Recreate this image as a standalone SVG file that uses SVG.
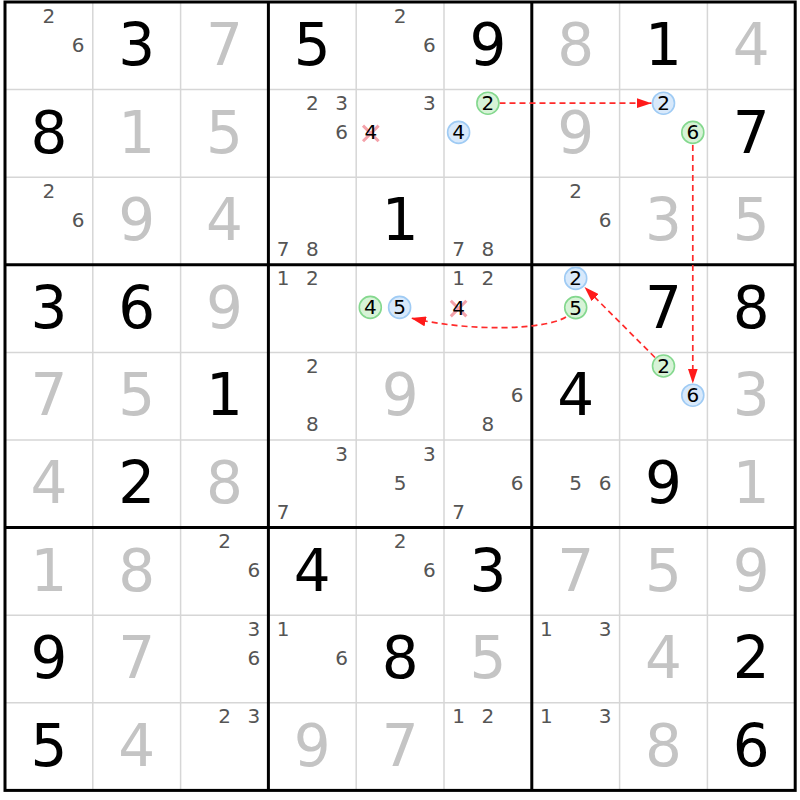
<svg xmlns="http://www.w3.org/2000/svg" width="800" height="800" viewBox="0 0 800 800">
<style>
text{font-family:"DejaVu Sans",sans-serif;text-anchor:middle}
.g{font-size:58px;fill:#000}
.s{font-size:58px;fill:#c4c4c4}
.c{font-size:20px;fill:#555}
.k{font-size:20px;fill:#000}
.thin{stroke:#d6d6d6;stroke-width:1.5}
.thick{stroke:#000;stroke-width:3}
.gr{fill:#d7f3d7;stroke:#84d88e;stroke-width:1.6}
.bl{fill:#d8e9fb;stroke:#9fcbf4;stroke-width:1.6}
.x{stroke:#f4a2aa;stroke-width:3}
.arr{fill:none;stroke:#ff2a2a;stroke-width:1.7;stroke-dasharray:6 4;marker-end:url(#ah)}
</style>
<defs>
<marker id="ah" viewBox="0 0 15 10" refX="15" refY="5" markerWidth="15" markerHeight="10" markerUnits="userSpaceOnUse" orient="auto">
<path d="M0,0 L15,5 L0,10 z" fill="#ff1a1a"/>
</marker>
</defs>
<rect x="0" y="0" width="800" height="800" fill="#fff"/>
<g id="grid">
<g class="thin">
<line x1="92.8" y1="2" x2="92.8" y2="790.4"/>
<line x1="180.6" y1="2" x2="180.6" y2="790.4"/>
<line x1="356.2" y1="2" x2="356.2" y2="790.4"/>
<line x1="444" y1="2" x2="444" y2="790.4"/>
<line x1="619.6" y1="2" x2="619.6" y2="790.4"/>
<line x1="707.4" y1="2" x2="707.4" y2="790.4"/>
<line x1="5" y1="89.6" x2="795.2" y2="89.6"/>
<line x1="5" y1="177.2" x2="795.2" y2="177.2"/>
<line x1="5" y1="352.4" x2="795.2" y2="352.4"/>
<line x1="5" y1="440" x2="795.2" y2="440"/>
<line x1="5" y1="615.2" x2="795.2" y2="615.2"/>
<line x1="5" y1="702.8" x2="795.2" y2="702.8"/>
</g>
<g class="thick">
<line x1="268.4" y1="2" x2="268.4" y2="790.4"/>
<line x1="531.8" y1="2" x2="531.8" y2="790.4"/>
<line x1="5" y1="264.8" x2="795.2" y2="264.8"/>
<line x1="5" y1="527.6" x2="795.2" y2="527.6"/>
<rect x="5" y="2" width="790.2" height="788.4" fill="none"/>
</g>
</g>
<g id="connectors">
<path class="arr" d="M499.5,103.2 H651.5"/>
<path class="arr" d="M692.8,145 V383.5"/>
<path class="arr" d="M655,357.5 L584.5,287"/>
<path class="arr" d="M566,317 C545,330 470,332 411,318"/>
</g>
<g id="cells">
<g id="r1c1"><text class="c" x="48.9" y="22.6">2</text><text class="c" x="78.2" y="51.8">6</text></g>
<g id="r1c2"><text class="g" x="136.7" y="65">3</text></g>
<g id="r1c3"><text class="s" x="224.5" y="65">7</text></g>
<g id="r1c4"><text class="g" x="312.3" y="65">5</text></g>
<g id="r1c5"><text class="c" x="400.1" y="22.6">2</text><text class="c" x="429.4" y="51.8">6</text></g>
<g id="r1c6"><text class="g" x="487.9" y="65">9</text></g>
<g id="r1c7"><text class="s" x="575.7" y="65">8</text></g>
<g id="r1c8"><text class="g" x="663.5" y="65">1</text></g>
<g id="r1c9"><text class="s" x="751.3" y="65">4</text></g>

<g id="r2c1"><text class="g" x="48.9" y="152.6">8</text></g>
<g id="r2c2"><text class="s" x="136.7" y="152.6">1</text></g>
<g id="r2c3"><text class="s" x="224.5" y="152.6">5</text></g>
<g id="r2c4"><text class="c" x="312.3" y="110.2">2</text><text class="c" x="341.6" y="110.2">3</text><text class="c" x="341.6" y="139.4">6</text></g>
<g id="r2c5"><text class="c" x="429.4" y="110.2">3</text><path class="x" d="M363,125.6 L378.6,141.2 M378.6,125.6 L363,141.2"/><text class="k" x="370.8" y="139.4">4</text></g>
<g id="r2c6"><circle class="gr" cx="487.9" cy="103.2" r="11"/><text class="k" x="487.9" y="110.2">2</text><circle class="bl" cx="458.6" cy="132.4" r="11"/><text class="k" x="458.6" y="139.4">4</text></g>
<g id="r2c7"><text class="s" x="575.7" y="152.6">9</text></g>
<g id="r2c8"><circle class="bl" cx="663.5" cy="103.2" r="11"/><text class="k" x="663.5" y="110.2">2</text><circle class="gr" cx="692.8" cy="132.4" r="11"/><text class="k" x="692.8" y="139.4">6</text></g>
<g id="r2c9"><text class="g" x="751.3" y="152.6">7</text></g>

<g id="r3c1"><text class="c" x="48.9" y="197.8">2</text><text class="c" x="78.2" y="227">6</text></g>
<g id="r3c2"><text class="s" x="136.7" y="240.2">9</text></g>
<g id="r3c3"><text class="s" x="224.5" y="240.2">4</text></g>
<g id="r3c4"><text class="c" x="283" y="256.2">7</text><text class="c" x="312.3" y="256.2">8</text></g>
<g id="r3c5"><text class="g" x="400.1" y="240.2">1</text></g>
<g id="r3c6"><text class="c" x="458.6" y="256.2">7</text><text class="c" x="487.9" y="256.2">8</text></g>
<g id="r3c7"><text class="c" x="575.7" y="197.8">2</text><text class="c" x="605" y="227">6</text></g>
<g id="r3c8"><text class="s" x="663.5" y="240.2">3</text></g>
<g id="r3c9"><text class="s" x="751.3" y="240.2">5</text></g>

<g id="r4c1"><text class="g" x="48.9" y="327.8">3</text></g>
<g id="r4c2"><text class="g" x="136.7" y="327.8">6</text></g>
<g id="r4c3"><text class="s" x="224.5" y="327.8">9</text></g>
<g id="r4c4"><text class="c" x="283" y="285.4">1</text><text class="c" x="312.3" y="285.4">2</text></g>
<g id="r4c5"><circle class="gr" cx="370.3" cy="307.4" r="11"/><text class="k" x="370.3" y="314.4">4</text><circle class="bl" cx="399.6" cy="307.4" r="11"/><text class="k" x="399.6" y="314.4">5</text></g>
<g id="r4c6"><text class="c" x="458.6" y="285.4">1</text><text class="c" x="487.9" y="285.4">2</text><path class="x" d="M450.8,300.8 L466.4,316.4 M466.4,300.8 L450.8,316.4"/><text class="k" x="458.6" y="314.6">4</text></g>
<g id="r4c7"><circle class="bl" cx="575.7" cy="278.4" r="11"/><text class="k" x="575.7" y="285.4">2</text><circle class="gr" cx="575.7" cy="307.6" r="11"/><text class="k" x="575.7" y="314.6">5</text></g>
<g id="r4c8"><text class="g" x="663.5" y="327.8">7</text></g>
<g id="r4c9"><text class="g" x="751.3" y="327.8">8</text></g>

<g id="r5c1"><text class="s" x="48.9" y="415.4">7</text></g>
<g id="r5c2"><text class="s" x="136.7" y="415.4">5</text></g>
<g id="r5c3"><text class="g" x="224.5" y="415.4">1</text></g>
<g id="r5c4"><text class="c" x="312.3" y="373">2</text><text class="c" x="312.3" y="431.4">8</text></g>
<g id="r5c5"><text class="s" x="400.1" y="415.4">9</text></g>
<g id="r5c6"><text class="c" x="517.2" y="402.2">6</text><text class="c" x="487.9" y="431.4">8</text></g>
<g id="r5c7"><text class="g" x="575.7" y="415.4">4</text></g>
<g id="r5c8"><circle class="gr" cx="663.5" cy="366" r="11"/><text class="k" x="663.5" y="373">2</text><circle class="bl" cx="692.8" cy="395.2" r="11"/><text class="k" x="692.8" y="402.2">6</text></g>
<g id="r5c9"><text class="s" x="751.3" y="415.4">3</text></g>

<g id="r6c1"><text class="s" x="48.9" y="503">4</text></g>
<g id="r6c2"><text class="g" x="136.7" y="503">2</text></g>
<g id="r6c3"><text class="s" x="224.5" y="503">8</text></g>
<g id="r6c4"><text class="c" x="341.6" y="460.6">3</text><text class="c" x="283" y="519">7</text></g>
<g id="r6c5"><text class="c" x="429.4" y="460.6">3</text><text class="c" x="400.1" y="489.8">5</text></g>
<g id="r6c6"><text class="c" x="517.2" y="489.8">6</text><text class="c" x="458.6" y="519">7</text></g>
<g id="r6c7"><text class="c" x="575.7" y="489.8">5</text><text class="c" x="605" y="489.8">6</text></g>
<g id="r6c8"><text class="g" x="663.5" y="503">9</text></g>
<g id="r6c9"><text class="s" x="751.3" y="503">1</text></g>

<g id="r7c1"><text class="s" x="48.9" y="590.6">1</text></g>
<g id="r7c2"><text class="s" x="136.7" y="590.6">8</text></g>
<g id="r7c3"><text class="c" x="224.5" y="548.2">2</text><text class="c" x="253.8" y="577.4">6</text></g>
<g id="r7c4"><text class="g" x="312.3" y="590.6">4</text></g>
<g id="r7c5"><text class="c" x="400.1" y="548.2">2</text><text class="c" x="429.4" y="577.4">6</text></g>
<g id="r7c6"><text class="g" x="487.9" y="590.6">3</text></g>
<g id="r7c7"><text class="s" x="575.7" y="590.6">7</text></g>
<g id="r7c8"><text class="s" x="663.5" y="590.6">5</text></g>
<g id="r7c9"><text class="s" x="751.3" y="590.6">9</text></g>

<g id="r8c1"><text class="g" x="48.9" y="678.2">9</text></g>
<g id="r8c2"><text class="s" x="136.7" y="678.2">7</text></g>
<g id="r8c3"><text class="c" x="253.8" y="635.8">3</text><text class="c" x="253.8" y="665">6</text></g>
<g id="r8c4"><text class="c" x="283" y="635.8">1</text><text class="c" x="341.6" y="665">6</text></g>
<g id="r8c5"><text class="g" x="400.1" y="678.2">8</text></g>
<g id="r8c6"><text class="s" x="487.9" y="678.2">5</text></g>
<g id="r8c7"><text class="c" x="546.4" y="635.8">1</text><text class="c" x="605" y="635.8">3</text></g>
<g id="r8c8"><text class="s" x="663.5" y="678.2">4</text></g>
<g id="r8c9"><text class="g" x="751.3" y="678.2">2</text></g>

<g id="r9c1"><text class="g" x="48.9" y="765.8">5</text></g>
<g id="r9c2"><text class="s" x="136.7" y="765.8">4</text></g>
<g id="r9c3"><text class="c" x="224.5" y="723.4">2</text><text class="c" x="253.8" y="723.4">3</text></g>
<g id="r9c4"><text class="s" x="312.3" y="765.8">9</text></g>
<g id="r9c5"><text class="s" x="400.1" y="765.8">7</text></g>
<g id="r9c6"><text class="c" x="458.6" y="723.4">1</text><text class="c" x="487.9" y="723.4">2</text></g>
<g id="r9c7"><text class="c" x="546.4" y="723.4">1</text><text class="c" x="605" y="723.4">3</text></g>
<g id="r9c8"><text class="s" x="663.5" y="765.8">8</text></g>
<g id="r9c9"><text class="g" x="751.3" y="765.8">6</text></g>
</g>
</svg>
